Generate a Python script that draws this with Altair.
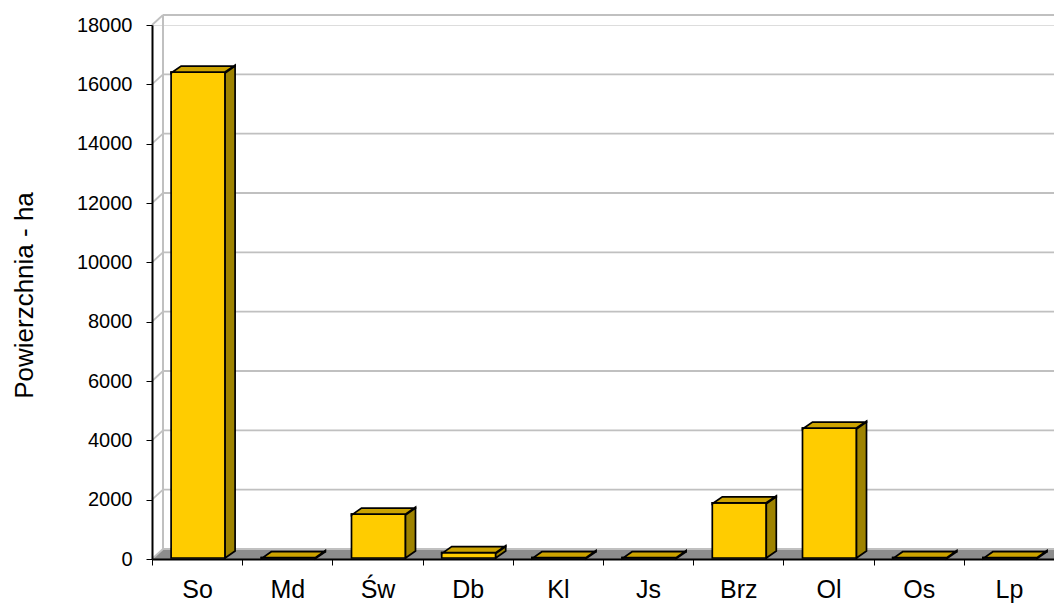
import altair as alt
import pandas as pd

# ---- data ----
categories = ["So", "Md", "Św", "Db", "Kl", "Js", "Brz", "Ol", "Os", "Lp"]
values = [16380, 10, 1480, 180, 10, 10, 1860, 4380, 10, 10]
y_ticks = list(range(0, 18001, 2000))

# ---- layout constants (pixels) ----
W, H = 902, 534
YMAX = 18000
N = len(categories)
ux = W / N          # px per category unit
uy = H / YMAX       # px per value unit
half_front = 27 / ux
bar_dx, bar_dy = 10 / ux, 7 / uy
wall_dx, wall_dy = 11 / ux, 10 / uy

FRONT = "#FFCC00"
TOP = "#CCA300"
SIDE = "#9E8300"
GRID = "#C0C0C0"
FLOOR = "#8C8C8C"
FONT = "Liberation Sans"
SW = 1.7

xs = alt.Scale(domain=[0, N], nice=False, zero=False)
ys = alt.Scale(domain=[0, YMAX], nice=False, zero=False)

label_expr = "datum.value < %d ? [%s][datum.value] : ''" % (
    N, ",".join("'%s'" % c for c in categories))

x_axis = alt.Axis(
    values=list(range(N + 1)), labelExpr=label_expr, labelOffset=ux / 2,
    labelFlush=False, labelOverlap=False, tickSize=6, tickColor="black",
    tickWidth=1, domainColor="black", domainWidth=2, grid=False, title=None,
    labelFont=FONT, labelFontSize=25, labelColor="black", labelPadding=12,
    zindex=1)
y_axis = alt.Axis(
    values=y_ticks, format="d", tickSize=6, tickColor="black", tickWidth=1,
    domainColor="black", domainWidth=2, grid=False,
    labelFont=FONT, labelFontSize=20, labelColor="black", labelPadding=14,
    title="Powierzchnia - ha", titleFont=FONT, titleFontSize=26,
    titleFontWeight="normal", titleColor="black", titleAngle=-90,
    titleX=-128, titleY=H / 2 + 3, titleAlign="center", titleBaseline="middle",
    zindex=1)

# ---- tables built from the arrays ----
front_rows, side_rows, top_rows = [], [], []
for i, (c, v) in enumerate(zip(categories, values)):
    xl = i + 0.5 - half_front
    xr = i + 0.5 + half_front
    front_rows.append({"cat": c, "xl": xl, "xr": xr, "y0": 0, "y1": v})
    side_rows += [
        {"cat": c, "x": xr, "lo": 0, "hi": v},
        {"cat": c, "x": xr + bar_dx, "lo": bar_dy, "hi": v + bar_dy},
    ]
    top_rows += [
        {"cat": c, "x": xl, "lo": v, "hi": v},
        {"cat": c, "x": xl + bar_dx, "lo": v, "hi": v + bar_dy},
        {"cat": c, "x": xr, "lo": v, "hi": v + bar_dy},
        {"cat": c, "x": xr + bar_dx, "lo": v + bar_dy, "hi": v + bar_dy},
    ]
front_df = pd.DataFrame(front_rows)
side_df = pd.DataFrame(side_rows)
top_df = pd.DataFrame(top_rows)

floor_df = pd.DataFrame([
    {"x": 0, "lo": 0, "hi": 0},
    {"x": wall_dx, "lo": 0, "hi": wall_dy},
    {"x": N, "lo": 0, "hi": wall_dy},
    {"x": N + wall_dx, "lo": wall_dy, "hi": wall_dy},
])
grid_df = pd.DataFrame({"v": y_ticks})

# ---- layers ----
floor = alt.Chart(floor_df).mark_area(color=FLOOR, orient="vertical").encode(
    x=alt.X("x:Q", scale=xs, axis=x_axis),
    y=alt.Y("lo:Q", scale=ys, axis=y_axis),
    y2="hi:Q",
)

back_grid = alt.Chart(grid_df).mark_rule(
    color=GRID, strokeWidth=1.8, xOffset=11, x2Offset=40, yOffset=-10
).encode(
    x=alt.X(datum=0, type="quantitative", scale=xs, axis=x_axis),
    x2=alt.X2(datum=N),
    y=alt.Y("v:Q", scale=ys, axis=y_axis),
)

side_grid = alt.Chart(grid_df).mark_rule(
    color=GRID, strokeWidth=1.8, x2Offset=11, y2Offset=-10
).encode(
    x=alt.X(datum=0, type="quantitative", scale=xs, axis=x_axis),
    x2=alt.X2(datum=0),
    y=alt.Y("v:Q", scale=ys, axis=y_axis),
    y2="v:Q",
)

back_vert = alt.Chart(grid_df).mark_rule(
    color=GRID, strokeWidth=1.8, xOffset=11, yOffset=-10, y2Offset=-10
).encode(
    x=alt.X(datum=0, type="quantitative", scale=xs, axis=x_axis),
    y=alt.Y(datum=0, type="quantitative", scale=ys, axis=y_axis),
    y2=alt.Y2(datum=YMAX),
)

front = alt.Chart(front_df).mark_rect(
    color=FRONT, stroke="black", strokeWidth=SW, xOffset=1, x2Offset=1,
    yOffset=-1, y2Offset=-1
).encode(
    x=alt.X("xl:Q", scale=xs, axis=x_axis),
    x2="xr:Q",
    y=alt.Y("y0:Q", scale=ys, axis=y_axis),
    y2="y1:Q",
)

side = alt.Chart(side_df).mark_area(
    color=SIDE, stroke="black", strokeWidth=SW, orient="vertical",
    xOffset=1, yOffset=-1
).encode(
    x=alt.X("x:Q", scale=xs, axis=x_axis),
    y=alt.Y("lo:Q", scale=ys, axis=y_axis),
    y2="hi:Q",
    detail="cat:N",
)

top = alt.Chart(top_df).mark_area(
    color=TOP, stroke="black", strokeWidth=SW, orient="vertical",
    xOffset=1, yOffset=-1
).encode(
    x=alt.X("x:Q", scale=xs, axis=x_axis),
    y=alt.Y("lo:Q", scale=ys, axis=y_axis),
    y2="hi:Q",
    detail="cat:N",
)

chart = alt.layer(
    floor, back_grid, side_grid, back_vert, front, side, top
).properties(
    width=W, height=H,
    padding={"left": 144, "top": 17, "right": 0, "bottom": 47},
    autosize=alt.AutoSizeParams(type="none"),
).configure_view(stroke=None).configure(background="white")

chart.save("out.html", embed_options={"renderer": "svg", "actions": False})
